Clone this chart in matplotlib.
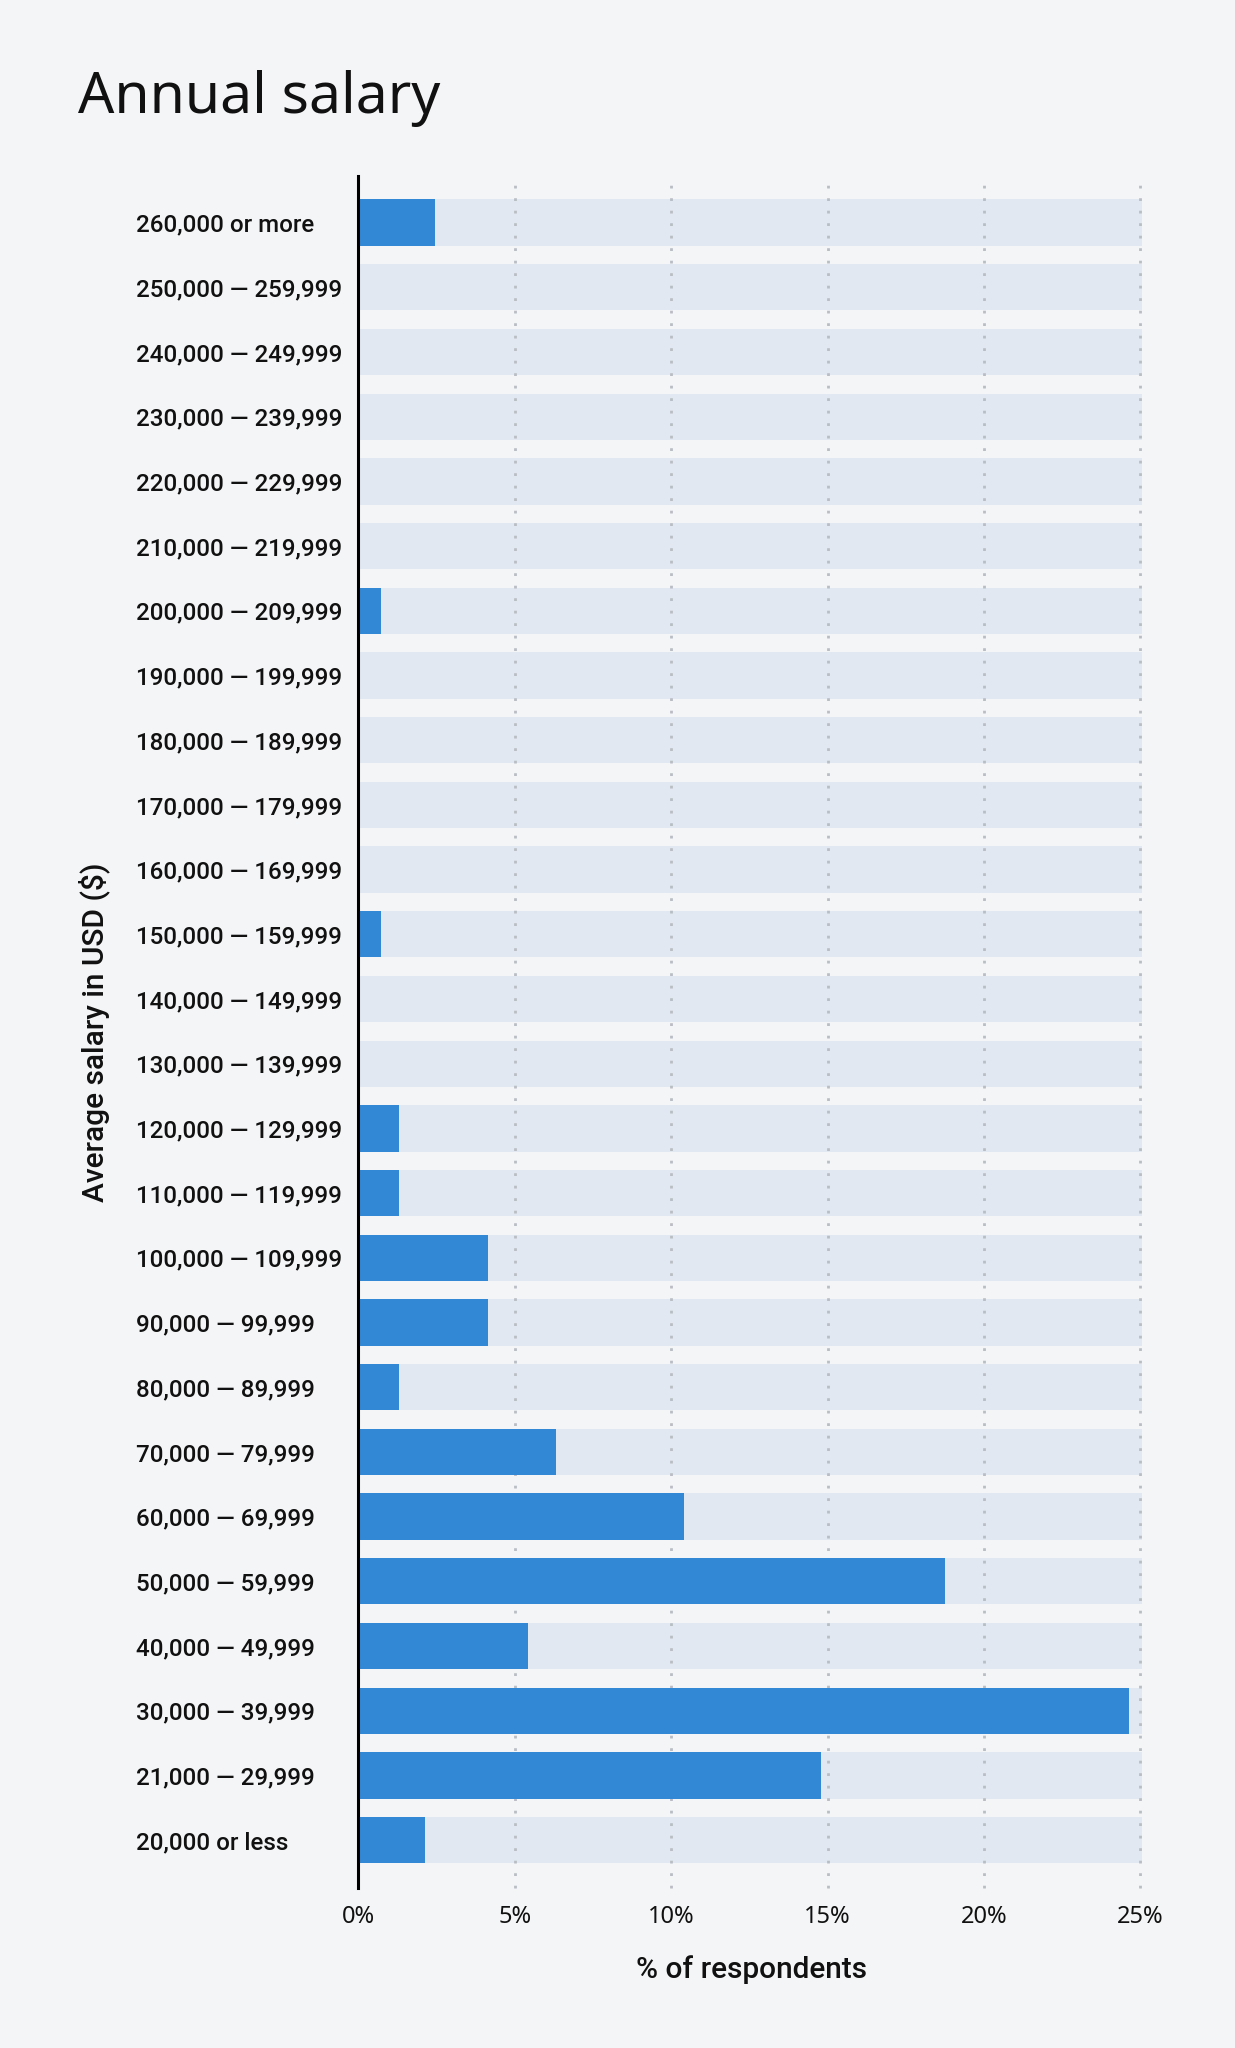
import numpy as np
import matplotlib.pyplot as plt

plt.rcParams['font.family'] = ['Noto Sans', 'DejaVu Sans']

# salary bands, top to bottom
salary_bands = [
    "260,000 or more",
    "250,000 — 259,999",
    "240,000 — 249,999",
    "230,000 — 239,999",
    "220,000 — 229,999",
    "210,000 — 219,999",
    "200,000 — 209,999",
    "190,000 — 199,999",
    "180,000 — 189,999",
    "170,000 — 179,999",
    "160,000 — 169,999",
    "150,000 — 159,999",
    "140,000 — 149,999",
    "130,000 — 139,999",
    "120,000 — 129,999",
    "110,000 — 119,999",
    "100,000 — 109,999",
    "90,000 — 99,999",
    "80,000 — 89,999",
    "70,000 — 79,999",
    "60,000 — 69,999",
    "50,000 — 59,999",
    "40,000 — 49,999",
    "30,000 — 39,999",
    "21,000 — 29,999",
    "20,000 or less",
]

# % of respondents per band
pct_respondents = [
    2.45, 0, 0, 0, 0, 0, 0.73, 0, 0, 0, 0, 0.73, 0, 0,
    1.30, 1.30, 4.14, 4.14, 1.30, 6.32, 10.40, 18.76, 5.41,
    24.64, 14.79, 2.13,
]

pct_ticks = [0, 5, 10, 15, 20, 25]
pct_tick_labels = ["0%", "5%", "10%", "15%", "20%", "25%"]

bg = "#f4f5f7"
band_color = "#e1e8f1"
bar_color = "#3388d6"
label_font = ['Roboto', 'DejaVu Sans']

W, H = 1235, 2048
fig = plt.figure(figsize=(W / 100, H / 100), dpi=100, facecolor=bg)
ax = fig.add_axes([358.3 / W, 1 - 1888 / H, 782 / W, 1712 / H])
ax.set_facecolor(bg)

y = np.arange(len(salary_bands))
n = len(salary_bands)

# light background track behind each bar
ax.barh(y, [pct_ticks[-1] + 0.05] * n, height=0.715, color=band_color,
        zorder=1, clip_on=False)

# dotted gridlines
for t in pct_ticks[1:]:
    ax.axvline(t, color="#b9bdc4", linestyle=(0, (1, 3.5)), lw=2, zorder=2,
               clip_on=False)

# the data bars
ax.barh(y, pct_respondents, height=0.715, color=bar_color, zorder=3)

# black zero line
ax.axvline(0, color="black", lw=2.2, zorder=5, clip_on=False)

ax.set_xlim(0, 25)
ax.set_ylim(n - 1 + 0.74, -0.72)
for s in ax.spines.values():
    s.set_visible(False)

ax.set_yticks(y, salary_bands)
ax.tick_params(axis="y", length=0, pad=160)
for lab in ax.get_yticklabels():
    lab.set_horizontalalignment("left")
    lab.set_family(label_font)
    lab.set_fontweight("medium")
    lab.set_fontsize(17.4)
    lab.set_color("#111111")

ax.set_xticks(pct_ticks, pct_tick_labels)
ax.tick_params(axis="x", length=0, pad=12, labelsize=17, labelcolor="#111111")

# labels
fig.text(751 / W, 1 - 1970 / H, "% of respondents", ha="center", va="center",
         fontsize=21.5, fontweight="medium", family=label_font, color="#111111")
fig.text(94 / W, 1 - 1032 / H, "Average salary in USD ($)", rotation=90,
         ha="center", va="center", fontsize=21.5, fontweight="medium",
         family=label_font, color="#111111")
fig.text(78 / W, 1 - 113 / H, "Annual salary", ha="left", va="baseline",
         fontsize=41, color="#111111")

plt.savefig("out.png", dpi=100, facecolor=bg)
